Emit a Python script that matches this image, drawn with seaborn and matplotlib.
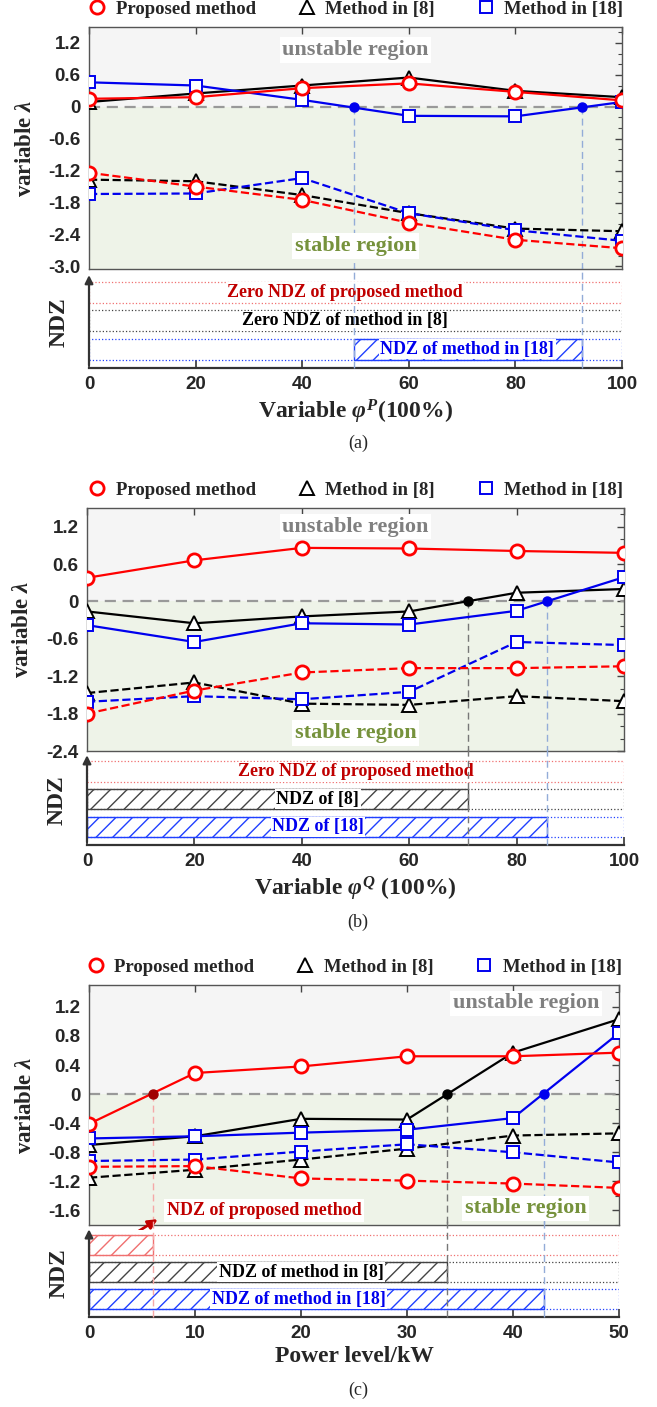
import matplotlib
matplotlib.use('Agg')
import matplotlib.pyplot as plt
import seaborn as sns
from matplotlib.lines import Line2D
from matplotlib.patches import Rectangle
from matplotlib.ticker import AutoMinorLocator

# ---------------- data ----------------
# (a) variable phi^P
phi_p = [0, 20, 40, 60, 80, 100]
a_prop_solid = [0.15, 0.18, 0.35, 0.44, 0.28, 0.12]
a_m8_solid = [0.09, 0.25, 0.40, 0.55, 0.30, 0.18]
a_m18_solid = [0.46, 0.40, 0.13, -0.17, -0.18, 0.09]
a_prop_dash = [-1.24, -1.50, -1.75, -2.18, -2.50, -2.66]
a_m8_dash = [-1.37, -1.40, -1.66, -2.00, -2.29, -2.34]
a_m18_dash = [-1.64, -1.63, -1.34, -2.00, -2.32, -2.52]
a_cross_m18 = [49.7, 92.5]

# (b) variable phi^Q
phi_q = [0, 20, 40, 60, 80, 100]
b_prop_solid = [0.38, 0.66, 0.86, 0.85, 0.81, 0.78]
b_m8_solid = [-0.16, -0.35, -0.24, -0.16, 0.14, 0.20]
b_m18_solid = [-0.38, -0.65, -0.35, -0.37, -0.15, 0.39]
b_prop_dash = [-1.80, -1.43, -1.14, -1.07, -1.07, -1.04]
b_m8_dash = [-1.47, -1.30, -1.64, -1.66, -1.52, -1.60]
b_m18_dash = [-1.61, -1.52, -1.57, -1.45, -0.65, -0.70]
b_cross_m8 = 71.0
b_cross_m18 = 85.7

# (c) power level
power_kw = [0, 10, 20, 30, 40, 50]
c_prop_solid = [-0.41, 0.29, 0.38, 0.52, 0.52, 0.57]
c_m8_solid = [-0.70, -0.58, -0.34, -0.35, 0.57, 1.03]
c_m18_solid = [-0.61, -0.58, -0.53, -0.49, -0.33, 0.84]
c_prop_dash = [-1.00, -0.99, -1.16, -1.19, -1.23, -1.29]
c_m8_dash = [-1.15, -1.04, -0.90, -0.75, -0.57, -0.54]
c_m18_dash = [-0.92, -0.90, -0.79, -0.69, -0.80, -0.94]
c_cross_prop = 6.0
c_cross_m8 = 33.8
c_cross_m18 = 42.9

labels = ['Proposed method', 'Method in [8]', 'Method in [18]']

# ---------------- style ----------------
sns.set_theme(style='white')
SERIF = ['Liberation Serif', 'DejaVu Serif']
SANS = ['Liberation Sans', 'DejaVu Sans']
plt.rcParams['font.family'] = SERIF
plt.rcParams['mathtext.fontset'] = 'custom'
plt.rcParams['mathtext.rm'] = 'Liberation Serif:bold'
plt.rcParams['mathtext.it'] = 'Liberation Serif:bold:italic'
plt.rcParams['mathtext.bf'] = 'Liberation Serif:bold'
plt.rcParams['hatch.linewidth'] = 1.0

RED, BLACK, BLUE = '#ff0000', '#000000', '#0000ee'
DARKRED = '#c00000'
GRAY_TXT = '#808080'
GREEN_TXT = '#76923c'
LIGHT_BLUE = '#93acd8'
MID_GRAY = '#777777'
PINK = '#f5a8a8'
MARK = {'prop': ('o', RED, 9.5, 2.0), 'm8': ('^', BLACK, 10, 1.4), 'm18': ('s', BLUE, 9, 1.4)}
ROW_Y = {'prop': 0.71, 'm8': 0.40, 'm18': 0.09}
ROW_H = 0.23

W, H, DPI = 657, 1407, 100
fig = plt.figure(figsize=(W / DPI, H / DPI), dpi=DPI)


def px_axes(x0, x1, y0, y1):
    return fig.add_axes([x0 / W, 1 - y1 / H, (x1 - x0) / W, (y1 - y0) / H])


def draw_top(ax, x, solid, dashed, ylim, yticks, nminor, xmax):
    ax.set_xlim(0, xmax)
    ax.set_ylim(*ylim)
    ax.axhspan(0, ylim[1], color='#f5f5f5', zorder=0, lw=0)
    ax.axhspan(ylim[0], 0, color='#eef3e8', zorder=0, lw=0)
    ax.axhline(0, color='#999999', ls='--', lw=1.6, dashes=(5, 3), zorder=1)
    for key in ['m8', 'm18', 'prop']:
        m, c, ms, mew = MARK[key]
        for vals, ls in [(dashed[key], '--'), (solid[key], '-')]:
            sns.lineplot(x=x, y=vals, ax=ax, color=c, linestyle=ls, linewidth=1.6,
                         marker=m, markersize=ms, markerfacecolor='white',
                         markeredgecolor=c, markeredgewidth=mew, zorder=3)
    ax.set_yticks([float(t) for t in yticks], labels=yticks, fontfamily=SANS,
                  fontweight='bold', fontsize=13.5)
    ax.set_xticks(x)
    ax.yaxis.set_minor_locator(AutoMinorLocator(nminor))
    ax.tick_params(which='both', direction='in', top=True, right=True, color='#444444',
                   labelbottom=False, pad=6)
    ax.tick_params(which='major', length=5, width=1)
    ax.tick_params(which='minor', length=3, width=0.8)
    for s in ax.spines.values():
        s.set_color('#555555')
        s.set_linewidth(1.0)
    ax.set_xlabel('')
    ax.set_ylabel(r'variable $\lambda$', fontsize=16.5, fontweight='bold')
    ax.yaxis.set_label_coords(-0.10, 0.5)
    handles = [Line2D([], [], ls='none', marker=MARK[k][0], color=MARK[k][1],
                      markersize=MARK[k][2], markerfacecolor='white',
                      markeredgewidth=MARK[k][3]) for k in ['prop', 'm8', 'm18']]
    ax.legend(handles, labels, loc='lower center', bbox_to_anchor=(0.5, 1.0), ncol=3,
              frameon=False, prop=dict(family=SERIF, weight='bold', size=13.5),
              handlelength=1.0, handletextpad=0.5, columnspacing=2.2, borderaxespad=0.1)


def region_text(ax, x, y, txt, color):
    ax.text(x, y, txt, color=color, fontsize=16, fontweight='bold', ha='center', va='center',
            bbox=dict(facecolor='white', edgecolor='none', pad=2), zorder=4)


def draw_ndz(ax, x, xmax, rows, xlabel):
    ax.set_xlim(0, xmax)
    ax.set_ylim(0, 1)
    ax.set_facecolor('white')
    for key, (edge, span, txt, tx, tcol) in rows.items():
        y = ROW_Y[key]
        ax.add_patch(Rectangle((0, y), xmax, ROW_H, fill=False, ec=edge, ls=':', lw=0.9))
        if span is not None:
            ax.add_patch(Rectangle((span[0], y), span[1] - span[0], ROW_H, fill=False,
                                   hatch='//', ec=edge, lw=1.0))
        if txt:
            ax.text(tx, y + ROW_H / 2, txt, color=tcol, fontsize=13, fontweight='bold',
                    ha='center', va='center',
                    bbox=dict(facecolor='white', edgecolor='none', pad=1), zorder=4)
    for side in ['top', 'right', 'left']:
        ax.spines[side].set_visible(False)
    ax.spines['bottom'].set_color('#333333')
    ax.spines['bottom'].set_linewidth(1.6)
    ax.annotate('', xy=(0, 1.04), xytext=(0, 0), xycoords='axes fraction',
                arrowprops=dict(arrowstyle='-|>', color='#333333', lw=1.6,
                                mutation_scale=12), annotation_clip=False)
    ax.set_yticks([])
    ax.set_xticks(x, labels=[str(v) for v in x], fontfamily=SANS, fontweight='bold',
                  fontsize=13.5)
    ax.tick_params(axis='x', direction='in', length=6, width=1.2, color='#333333', pad=6,
                   bottom=True)
    ax.set_ylabel('NDZ', fontsize=17, fontweight='bold')
    ax.yaxis.set_label_coords(-0.036, 0.5)
    ax.set_xlabel(xlabel, fontsize=17, fontweight='bold', labelpad=3)


def cross_line(ax_top, ax_ndz, xc, ymin, lcol, dotcol):
    ax_top.plot([xc, xc], [0, ymin], color=lcol, ls='--', lw=1.0, dashes=(5, 3), zorder=2)
    ax_top.plot([xc], [0], 'o', color=dotcol, markersize=6.5, zorder=5)
    ax_ndz.plot([xc, xc], [0, 1.1], color=lcol, ls='--', lw=1.0, dashes=(5, 3),
                clip_on=False, zorder=5)


# ---------------- panel (a) ----------------
ax = px_axes(89, 622, 27, 269)
draw_top(ax, phi_p,
         {'prop': a_prop_solid, 'm8': a_m8_solid, 'm18': a_m18_solid},
         {'prop': a_prop_dash, 'm8': a_m8_dash, 'm18': a_m18_dash},
         (-3.05, 1.5), ['1.2', '0.6', '0', '-0.6', '-1.2', '-1.8', '-2.4', '-3.0'], 3, 100)
region_text(ax, 50, 1.07, 'unstable region', GRAY_TXT)
region_text(ax, 50, -2.62, 'stable region', GREEN_TXT)
axn = px_axes(89, 622, 276, 368)
draw_ndz(axn, phi_p, 100, {
    'prop': ('#f07070', None, 'Zero NDZ of proposed method', 48, DARKRED),
    'm8': ('#444444', None, 'Zero NDZ of method in [8]', 48, BLACK),
    'm18': ('#2040ff', a_cross_m18, 'NDZ of method in [18]', 71, BLUE),
}, r'Variable $\varphi^{P}$(100%)')
for xc in a_cross_m18:
    cross_line(ax, axn, xc, -3.05, LIGHT_BLUE, BLUE)
fig.text(358 / W, 1 - 443 / H, '(a)', fontsize=13, ha='center', va='center')

# ---------------- panel (b) ----------------
ax = px_axes(87, 624, 508, 751)
draw_top(ax, phi_q,
         {'prop': b_prop_solid, 'm8': b_m8_solid, 'm18': b_m18_solid},
         {'prop': b_prop_dash, 'm8': b_m8_dash, 'm18': b_m18_dash},
         (-2.4, 1.5), ['1.2', '0.6', '0', '-0.6', '-1.2', '-1.8', '-2.4'], 3, 100)
region_text(ax, 50, 1.20, 'unstable region', GRAY_TXT)
region_text(ax, 50, -2.11, 'stable region', GREEN_TXT)
axn = px_axes(87, 624, 756, 845)
draw_ndz(axn, phi_q, 100, {
    'prop': ('#f07070', None, 'Zero NDZ of proposed method', 50, DARKRED),
    'm8': ('#444444', (0, b_cross_m8), 'NDZ of [8]', 43, BLACK),
    'm18': ('#2040ff', (0, b_cross_m18), 'NDZ of [18]', 43, BLUE),
}, r'Variable $\varphi^{Q}$ (100%)')
cross_line(ax, axn, b_cross_m8, -2.4, MID_GRAY, BLACK)
cross_line(ax, axn, b_cross_m18, -2.4, LIGHT_BLUE, BLUE)
fig.text(358 / W, 1 - 922 / H, '(b)', fontsize=13, ha='center', va='center')

# ---------------- panel (c) ----------------
ax = px_axes(89, 619, 985, 1225)
draw_top(ax, power_kw,
         {'prop': c_prop_solid, 'm8': c_m8_solid, 'm18': c_m18_solid},
         {'prop': c_prop_dash, 'm8': c_m8_dash, 'm18': c_m18_dash},
         (-1.8, 1.5), ['1.2', '0.8', '0.4', '0', '-0.4', '-0.8', '-1.2', '-1.6'], 2, 50)
region_text(ax, 41.2, 1.25, 'unstable region', GRAY_TXT)
region_text(ax, 41.2, -1.57, 'stable region', GREEN_TXT)
ax.text(16.5, -1.6, 'NDZ of proposed method', color=DARKRED, fontsize=13, fontweight='bold',
        ha='center', va='center', bbox=dict(facecolor='white', edgecolor='none', pad=2),
        zorder=4)
ax.annotate('', xy=(6.7, -1.70), xytext=(4.4, -1.91),
            arrowprops=dict(arrowstyle='-|>', color=DARKRED, lw=2.0, mutation_scale=14),
            annotation_clip=False, zorder=6)
axn = px_axes(89, 619, 1230, 1317)
draw_ndz(axn, power_kw, 50, {
    'prop': ('#f07070', (0, c_cross_prop), '', 0, DARKRED),
    'm8': ('#444444', (0, c_cross_m8), 'NDZ of method in [8]', 20, BLACK),
    'm18': ('#2040ff', (0, c_cross_m18), 'NDZ of method in [18]', 19.8, BLUE),
}, 'Power level/kW')
cross_line(ax, axn, c_cross_prop, -1.8, PINK, '#a00000')
cross_line(ax, axn, c_cross_m8, -1.8, MID_GRAY, BLACK)
cross_line(ax, axn, c_cross_m18, -1.8, LIGHT_BLUE, BLUE)
fig.text(358 / W, 1 - 1390 / H, '(c)', fontsize=13, ha='center', va='center')

fig.savefig('out.png', dpi=DPI)
